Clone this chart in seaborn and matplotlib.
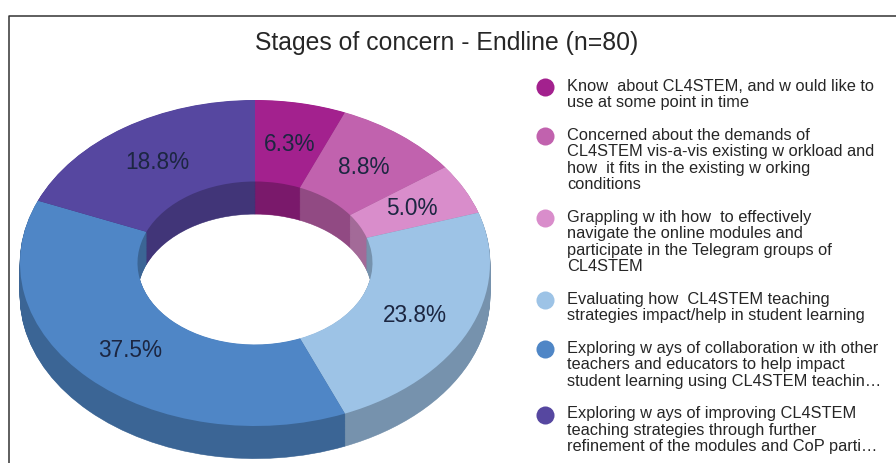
import math
import numpy as np
import matplotlib
matplotlib.use("Agg")
import matplotlib.pyplot as plt
from matplotlib.lines import Line2D
import seaborn as sns

# ---------------- data ----------------
title = "Stages of concern - Endline (n=80)"
stages = [
    "Know  about CL4STEM, and w ould like to\nuse at some point in time",
    "Concerned about the demands of\nCL4STEM vis-a-vis existing w orkload and\nhow  it fits in the existing w orking\nconditions",
    "Grappling w ith how  to effectively\nnavigate the online modules and\nparticipate in the Telegram groups of\nCL4STEM",
    "Evaluating how  CL4STEM teaching\nstrategies impact/help in student learning",
    "Exploring w ays of collaboration w ith other\nteachers and educators to help impact\nstudent learning using CL4STEM teachin\u2026",
    "Exploring w ays of improving CL4STEM\nteaching strategies through further\nrefinement of the modules and CoP parti\u2026",
]
counts = [5, 7, 4, 19, 30, 15]
colors = ["#A3218E", "#C162AE", "#D98DCB", "#9DC3E6", "#4F86C6", "#5647A0"]

# ---------------- style ----------------
sns.set_theme(style="white")
plt.rcParams["font.family"] = ["Liberation Sans", "DejaVu Sans"]

palette = sns.color_palette(colors)
side_palette = [tuple(np.array(c) * 0.75) for c in palette]

W, H = 896, 464
fig = plt.figure(figsize=(W / 100, H / 100), dpi=100)

# donut geometry in pixels
cx, cy, rx, ry = 255, 264, 235, 163
depth = 0.2
xlim = (-1.05, 1.05)
ylim = (-1.25, 1.05)
left_px = cx + xlim[0] * rx
width_px = (xlim[1] - xlim[0]) * rx
top_px = cy - ylim[1] * ry
height_px = (ylim[1] - ylim[0]) * ry
ax = fig.add_axes([left_px / W, 1 - (top_px + height_px) / H, width_px / W, height_px / H])


def fmt(p):
    return f"{math.floor(p * 10 + 0.5 + 1e-9) / 10:.1f}%"


# side walls (stacked darker layers)
for d in np.linspace(-depth, 0, 45, endpoint=False):
    ws, _ = ax.pie(counts, colors=side_palette, startangle=90, counterclock=False,
                   center=(0, d), radius=1,
                   wedgeprops=dict(width=0.5, linewidth=0.4))
    for w in ws:
        w.set_edgecolor(w.get_facecolor())

# top surface
wedges, texts, autotexts = ax.pie(
    counts, colors=palette, startangle=90, counterclock=False,
    center=(0, 0), radius=1, autopct=fmt, pctdistance=0.75,
    wedgeprops=dict(width=0.5, linewidth=0),
    textprops=dict(fontsize=16.3, color="#1c2641"))

ax.set_aspect("auto")
ax.set_xlim(*xlim)
ax.set_ylim(*ylim)
ax.axis("off")

# title
fig.text(446.5 / W, 1 - 43 / H, title, ha="center", va="center",
         fontsize=17.8, color="#262626")

# legend (manual, marker aligned with first line)
y = 88.0
line_h, gap = 16.5, 16.0
for lab, col in zip(stages, palette):
    fig.add_artist(Line2D([545 / W], [1 - y / H], marker="o", markersize=13,
                          color=col, markeredgewidth=0, linestyle="none",
                          transform=fig.transFigure))
    fig.text(567 / W, 1 - (y - 9) / H, lab, ha="left", va="top",
             fontsize=11.8, color="#262626", linespacing=1.11)
    y += lab.count("\n") * line_h + line_h + gap

# frame (left and top border)
fig.add_artist(Line2D([9 / W, 9 / W, 1.0], [0.0, 1 - 17 / H, 1 - 17 / H],
                      color="#333333", linewidth=1.1, transform=fig.transFigure))

fig.savefig("out.png", dpi=100)
